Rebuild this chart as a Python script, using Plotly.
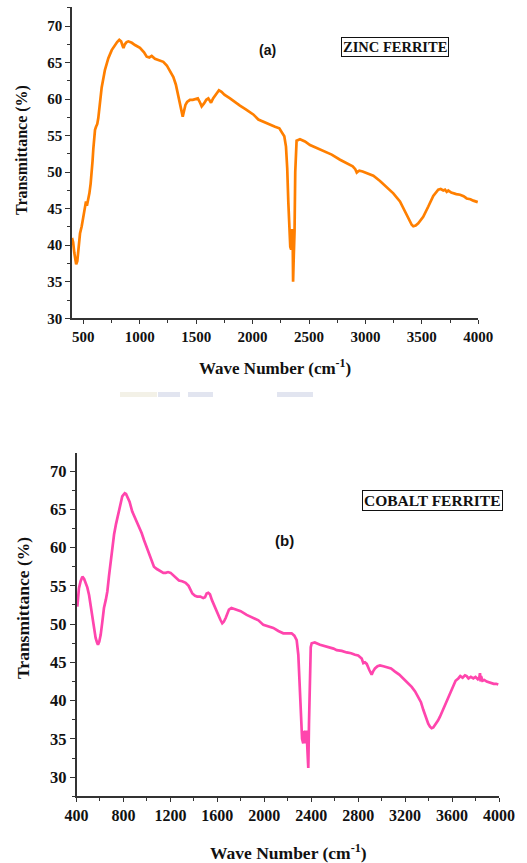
import plotly.graph_objects as go

# ---- Data: (a) Zinc ferrite FTIR ----
zn_wn = [400, 410, 420, 430, 437, 447, 460, 471, 486, 500, 515, 524, 532, 540, 554, 565,
         575, 582, 589, 596, 604, 613, 624, 633, 645, 663, 692, 722, 752, 781, 800, 819,
         835, 848, 856, 868, 884, 899, 930, 958, 1002, 1038, 1062, 1085, 1106, 1135, 1160,
         1185, 1209, 1240, 1270, 1298, 1320, 1340, 1360, 1372, 1381, 1390, 1405, 1420, 1445,
         1470, 1496, 1515, 1535, 1549, 1570, 1590, 1608, 1620, 1632, 1650, 1675, 1702, 1725,
         1750, 1800, 1840, 1888, 1940, 2006, 2051, 2095, 2139, 2199, 2237, 2258, 2281, 2296,
         2307, 2317, 2326, 2334, 2342, 2350, 2355, 2359, 2365, 2372, 2378, 2390, 2420, 2464,
         2509, 2568, 2627, 2701, 2775, 2834, 2887, 2910, 2923, 2935, 2946, 2975, 3011, 3070,
         3129, 3188, 3247, 3306, 3350, 3389, 3410, 3424, 3445, 3468, 3512, 3557, 3601, 3645,
         3667, 3690, 3705, 3720, 3734, 3760, 3778, 3805, 3838, 3870, 3897, 3930, 3956, 3995]
zn_t = [41.0, 40.4, 39.0, 37.8, 37.4, 37.8, 40.0, 41.6, 42.6, 43.8, 45.4, 46.0, 45.4, 45.9, 47.1, 48.4,
        49.9, 51.5, 53.2, 55.0, 55.8, 56.2, 56.6, 57.4, 59.5, 61.6, 64.0, 65.6, 66.7, 67.4, 67.8, 68.1,
        67.9, 67.3, 67.0, 67.5, 67.8, 67.9, 67.7, 67.4, 67.0, 66.4, 65.8, 65.7, 65.9, 65.5, 65.4,
        65.2, 65.1, 64.6, 63.8, 63.0, 62.0, 60.6, 59.0, 58.2, 57.6, 58.2, 59.2, 59.6, 59.9,
        59.9, 60.0, 60.1, 59.5, 59.0, 59.4, 59.9, 60.1, 59.8, 59.5, 60.1, 60.7, 61.2, 61.0,
        60.6, 60.1, 59.6, 59.1, 58.6, 57.9, 57.2, 56.9, 56.5, 56.2, 56.0, 55.4, 54.9, 53.5,
        50.5, 45.8, 42.2, 39.8, 39.4, 42.2, 41.5, 35.0, 38.5, 42.0, 50.0, 54.3, 54.5, 54.2,
        53.7, 53.3, 52.8, 52.4, 51.7, 51.2, 50.8, 50.4, 49.95, 50.1, 50.2, 50.1, 49.9, 49.5,
        48.8, 48.0, 47.1, 46.0, 44.6, 43.3, 42.8, 42.6, 42.7, 43.0, 43.9, 45.3, 46.75, 47.6,
        47.7, 47.5, 47.6, 47.3, 47.5, 47.2, 47.1, 47.0, 46.9, 46.7, 46.4, 46.3, 46.1, 45.9]

# ---- Data: (b) Cobalt ferrite FTIR ----
co_wn = [407, 421, 435, 450, 465, 478, 492, 507, 520, 535, 550, 563, 575, 583, 594, 606,
         620, 634, 650, 663, 677, 691, 706, 720, 737, 754, 772, 790, 800, 811, 822, 833,
         852, 875, 900, 932, 955, 975, 998, 1018, 1040, 1060, 1085, 1117, 1140, 1160,
         1180, 1202, 1225, 1250, 1273, 1300, 1330, 1355, 1387, 1410, 1429, 1455, 1480, 1495,
         1509, 1523, 1537, 1555, 1571, 1590, 1606, 1625, 1642, 1655, 1671, 1685, 1699, 1720,
         1742, 1770, 1799, 1850, 1900, 1950, 1992, 2040, 2077, 2120, 2162, 2200, 2233, 2256,
         2276, 2290, 2304, 2312, 2322, 2332, 2340, 2347, 2353, 2360, 2366, 2375, 2381, 2389,
         2396, 2404, 2430, 2475, 2520, 2560, 2590, 2617, 2660, 2702, 2740, 2773, 2800, 2830,
         2844, 2858, 2873, 2895, 2915, 2930, 2943, 2965, 2986, 3015, 3043, 3080, 3114, 3150,
         3184, 3220, 3256, 3285, 3312, 3335, 3355, 3377, 3397, 3412, 3426, 3440, 3460, 3480,
         3497, 3525, 3554, 3580, 3610, 3630, 3653, 3670, 3690, 3710, 3724, 3740, 3760, 3781,
         3800, 3820, 3832, 3838, 3843, 3847, 3860, 3875, 3895, 3915, 3935, 3955, 3975, 3994]
co_t = [52.3, 54.7, 55.6, 56.2, 55.9, 55.4, 54.8, 53.8, 52.4, 50.8, 49.3, 48.2, 47.6, 47.3, 47.7, 48.6,
        50.3, 52.1, 53.2, 54.3, 56.3, 58.2, 60.0, 61.7, 63.1, 64.3, 65.6, 66.7, 66.9, 67.1, 67.0, 66.7,
        66.0, 64.7, 63.8, 62.8, 61.9, 61.0, 60.1, 59.1, 58.2, 57.5, 57.2, 56.9, 56.7, 56.7,
        56.8, 56.7, 56.4, 56.0, 55.7, 55.6, 55.4, 55.0, 54.0, 53.7, 53.6, 53.6, 53.4, 53.5,
        54.0, 54.1, 53.9, 53.1, 52.5, 51.8, 51.3, 50.6, 50.1, 50.3, 50.8, 51.5, 51.9, 52.1,
        52.0, 51.9, 51.7, 51.2, 50.9, 50.5, 49.9, 49.7, 49.5, 49.1, 48.8, 48.8, 48.8, 48.5,
        47.9, 46.0, 41.5, 37.5, 35.0, 34.4, 35.9, 36.0, 34.4, 36.1, 33.0, 31.2, 37.0, 42.7,
        47.0, 47.5, 47.6, 47.3, 47.1, 47.0, 46.8, 46.6, 46.5, 46.3, 46.2, 46.0, 45.9, 45.5,
        44.9, 45.0, 44.8, 44.0, 43.4, 43.9, 44.2, 44.5, 44.6, 44.5, 44.4, 44.2, 43.8, 43.4,
        42.9, 42.4, 41.8, 41.2, 40.5, 39.8, 38.8, 37.8, 37.0, 36.6, 36.4, 36.5, 36.9, 37.4,
        37.9, 38.9, 40.1, 41.0, 42.0, 42.6, 42.9, 43.2, 43.0, 43.3, 43.2, 42.9, 43.1, 42.9,
        43.1, 42.8, 43.0, 43.6, 42.5, 43.2, 42.6, 42.7, 42.5, 42.4, 42.4, 42.2, 42.2, 42.1]

zn_label = "ZINC FERRITE"
co_label = "COBALT FERRITE"
x_title = "Wave Number (cm<sup>-1</sup>)"
y_title = "Transmittance (%)"

W, H = 527, 863
def px(x):
    return x / W
def py(y):
    return 1 - y / H

serif = "Liberation Serif"
axis_col = "#333333"
txt_col = "#111111"

fig = go.Figure()
fig.add_trace(go.Scatter(x=zn_wn, y=zn_t, mode="lines", line=dict(color="#FF7F00", width=2.7),
                         xaxis="x", yaxis="y", showlegend=False))
fig.add_trace(go.Scatter(x=co_wn, y=co_t, mode="lines", line=dict(color="#FF45AD", width=2.7),
                         xaxis="x2", yaxis="y2", showlegend=False))

def xax(domain, rng, tick0, dtick, fsize, anchor):
    return dict(domain=domain, range=rng, anchor=anchor, showgrid=False, zeroline=False,
                automargin=False,
                showline=True, linecolor=axis_col, linewidth=1.6, ticks="outside",
                ticklen=4, tickwidth=1.4, tickcolor=axis_col, tick0=tick0, dtick=dtick,
                tickfont=dict(family=serif, size=fsize, color=txt_col, weight="bold"),
                minor=dict(ticks="outside", ticklen=3, tickwidth=1.2, tickcolor=axis_col,
                           dtick=dtick / 2, tick0=tick0, showgrid=False))

def yax(domain, rng, fsize, anchor):
    return dict(domain=domain, range=rng, anchor=anchor, showgrid=False, zeroline=False,
                automargin=False,
                showline=True, linecolor=axis_col, linewidth=1.6, ticks="outside",
                ticklen=5, tickwidth=1.4, tickcolor=axis_col, tick0=30, dtick=5,
                tickfont=dict(family=serif, size=fsize, color=txt_col, weight="bold"),
                minor=dict(ticks="outside", ticklen=3, tickwidth=1.2, tickcolor=axis_col,
                           dtick=2.5, tick0=30, showgrid=False))

fig.update_layout(
    width=W, height=H, autosize=False, margin=dict(l=0, r=0, t=0, b=0, pad=0),
    paper_bgcolor="white", plot_bgcolor="white", showlegend=False,
    xaxis=xax([px(72), px(478.3)], [400, 4000], 500, 500, 15, "y"),
    yaxis=yax([py(318.3), py(7)], [30, 72.6], 15, "x"),
    xaxis2=xax([px(76.5), px(499)], [400, 4000], 400, 400, 16, "y2"),
    yaxis2=yax([py(796.3), py(452.7)], [27.5, 72.4], 16.5, "x2"),
)

ann = []
ann.append(dict(x=px(275), y=py(367), xref="paper", yref="paper", text=x_title, showarrow=False,
                font=dict(family=serif, size=17, color=txt_col, weight="bold"),
                xanchor="center", yanchor="middle"))
ann.append(dict(x=px(288), y=py(852), xref="paper", yref="paper", text=x_title, showarrow=False,
                font=dict(family=serif, size=17.5, color=txt_col, weight="bold"),
                xanchor="center", yanchor="middle"))
ann.append(dict(x=px(22), y=py(150), xref="paper", yref="paper", text=y_title, showarrow=False,
                textangle=-90, font=dict(family=serif, size=16, color=txt_col, weight="bold"),
                xanchor="center", yanchor="middle"))
ann.append(dict(x=px(23), y=py(608), xref="paper", yref="paper", text=y_title, showarrow=False,
                textangle=-90, font=dict(family=serif, size=17.5, color=txt_col, weight="bold"),
                xanchor="center", yanchor="middle"))
ann.append(dict(x=px(267), y=py(50), xref="paper", yref="paper", text="(a)", showarrow=False,
                font=dict(family="Liberation Sans", size=14, color=txt_col, weight="bold"),
                xanchor="center", yanchor="middle"))
ann.append(dict(x=px(284), y=py(540), xref="paper", yref="paper", text="(b)", showarrow=False,
                font=dict(family="Liberation Sans", size=15, color=txt_col, weight="bold"),
                xanchor="center", yanchor="middle"))
ann.append(dict(x=px(395), y=py(47.5), xref="paper", yref="paper", text=zn_label, showarrow=False,
                font=dict(family=serif, size=14.5, color=txt_col, weight="bold"),
                bordercolor=txt_col, borderwidth=1, borderpad=1, bgcolor="white",
                xanchor="center", yanchor="middle"))
ann.append(dict(x=px(432.5), y=py(500.5), xref="paper", yref="paper", text=co_label, showarrow=False,
                font=dict(family=serif, size=15.5, color=txt_col, weight="bold"),
                bordercolor=txt_col, borderwidth=1, borderpad=1, bgcolor="white",
                xanchor="center", yanchor="middle"))
fig.update_layout(annotations=ann)

# faint scan artefact between the panels
for (x0, x1, c) in [(120, 157, "rgba(235,232,215,0.6)"), (158, 180, "rgba(190,198,222,0.45)"),
                    (188, 213, "rgba(190,198,222,0.45)"), (277, 313, "rgba(190,198,222,0.45)")]:
    fig.add_shape(type="rect", xref="paper", yref="paper", x0=px(x0), x1=px(x1),
                  y0=py(397), y1=py(392), line=dict(width=0), fillcolor=c, layer="below")

post = ("document.documentElement.style.margin='0';document.body.style.margin='0';"
        "document.body.style.padding='0';document.body.style.overflow='hidden';"
        "var gd=document.getElementById('{plot_id}');gd.style.width='527px';gd.style.height='863px';"
        "Plotly.relayout(gd,{width:527,height:863});")
fig.write_html("out.html", config={"responsive": False}, post_script=post)
